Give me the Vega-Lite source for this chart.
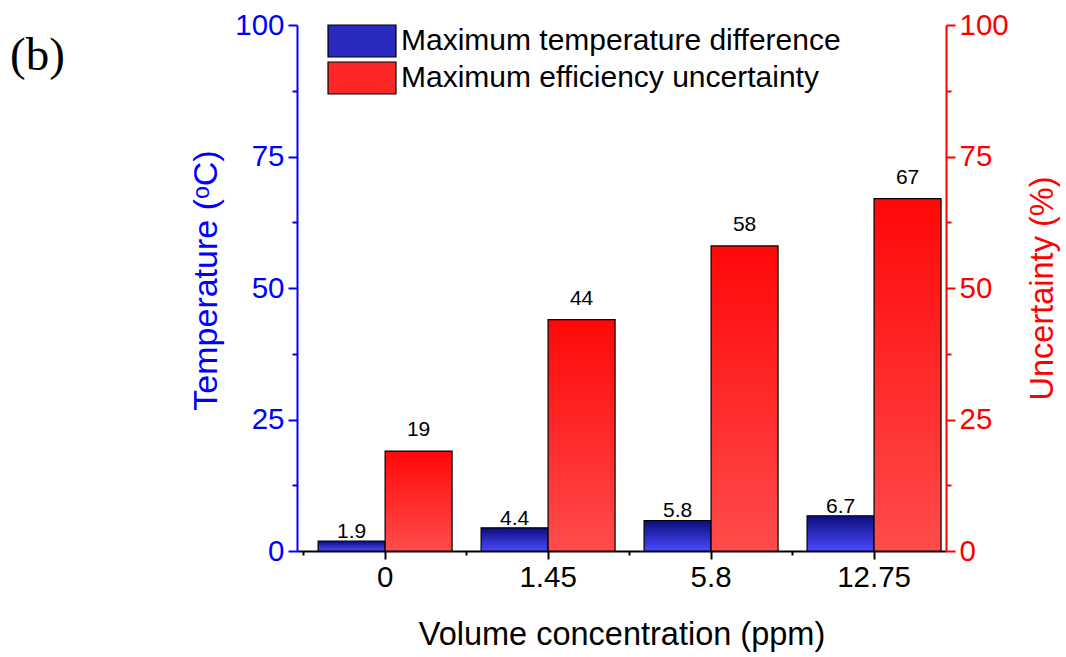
{
  "$schema": "https://vega.github.io/schema/vega-lite/v6.json",
  "width": 649,
  "height": 526,
  "autosize": {"type": "none"},
  "padding": {"left": 297, "top": 25, "right": 120, "bottom": 106},
  "background": "white",
  "title": {"text": "(b)", "anchor": "start", "frame": "group", "font": "Liberation Serif", "fontSize": 47, "fontWeight": "normal", "color": "black", "dx": -287, "dy": 70, "baseline": "top", "offset": 0},
  "config": {
    "view": {"stroke": null},
    "font": "Arial",
    "text": {"font": "Arial"},
    "legend": {"labelFont": "Arial"},
    "axis": {"labelFont": "Arial", "titleFont": "Arial", "titleFontWeight": "normal", "grid": false}
  },
  "data": {"values": [
    {"conc": "0", "series": "Maximum temperature difference", "value": 1.9},
    {"conc": "1.45", "series": "Maximum temperature difference", "value": 4.4},
    {"conc": "5.8", "series": "Maximum temperature difference", "value": 5.8},
    {"conc": "12.75", "series": "Maximum temperature difference", "value": 6.7},
    {"conc": "0", "series": "Maximum efficiency uncertainty", "value": 19},
    {"conc": "1.45", "series": "Maximum efficiency uncertainty", "value": 44},
    {"conc": "5.8", "series": "Maximum efficiency uncertainty", "value": 58},
    {"conc": "12.75", "series": "Maximum efficiency uncertainty", "value": 67}
  ]},
  "layer": [
    {
      "transform": [{"filter": "datum.series === 'Maximum temperature difference'"}],
      "encoding": {
        "x": {"field": "conc", "type": "nominal", "sort": ["0", "1.45", "5.8", "12.75"],
          "scale": {"paddingInner": 0.178, "paddingOuter": 0.08, "align": 0.81},
          "axis": {"title": "Volume concentration (ppm)", "orient": "bottom", "labelAngle": 0, "labelFontSize": 29.5, "labelColor": "black", "labelPadding": 4, "tickSize": 8, "tickWidth": 2, "tickColor": "black", "domainColor": "black", "domainWidth": 2, "titleFontSize": 32.5, "titleColor": "black", "titlePadding": 27}},
        "xOffset": {"field": "series", "type": "nominal", "scale": {"domain": ["Maximum temperature difference", "Maximum efficiency uncertainty"], "paddingInner": 0, "paddingOuter": 0}},
        "y": {"field": "value", "type": "quantitative", "scale": {"domain": [0, 100], "nice": false},
          "axis": {"orient": "left", "title": "Temperature (ᵒC)", "titleY": 255, "values": [0, 12.5, 25, 37.5, 50, 62.5, 75, 87.5, 100], "labelExpr": "datum.value % 25 === 0 ? datum.label : ''", "labelColor": "#0000ff", "labelFontSize": 29.5, "labelPadding": 4, "tickColor": "#0000ff", "tickWidth": 2, "tickSize": {"condition": {"test": "datum.value % 25 === 0", "value": 9}, "value": 5}, "domainColor": "#0000ff", "domainWidth": 2, "titleColor": "#0000ff", "titleFontSize": 34, "titlePadding": 11}}
      },
      "layer": [
        {"mark": {"type": "bar", "opacity": 0},
         "encoding": {"fill": {"field": "series", "type": "nominal",
           "scale": {"domain": ["Maximum temperature difference", "Maximum efficiency uncertainty"], "range": ["#2a2ac0", "#ff2626"]},
           "legend": {"title": null, "orient": "none", "legendX": 47, "legendY": -2, "padding": 0, "symbolType": "M-2,-0.94H2V0.94H-2Z", "symbolSize": 1156, "symbolStrokeColor": "black", "symbolStrokeWidth": 1.2, "symbolOpacity": 1, "labelFontSize": 30, "labelColor": "black", "labelFont": "Arial", "labelOffset": 21, "rowPadding": -3, "labelLimit": 600}}}},
        {"mark": {"type": "bar", "stroke": "black", "strokeWidth": 1.2,
          "fill": {"gradient": "linear", "x1": 0, "y1": 0, "x2": 0, "y2": 1, "stops": [{"offset": 0, "color": "#0c0c7c"}, {"offset": 1, "color": "#4a4aff"}]}}},
        {"mark": {"type": "text", "baseline": "bottom", "fontSize": 21, "color": "black", "dy": 1, "font": "Arial"},
         "encoding": {"text": {"field": "value", "type": "quantitative"}}}
      ]
    },
    {
      "transform": [{"filter": "datum.series === 'Maximum efficiency uncertainty'"}],
      "encoding": {
        "x": {"field": "conc", "type": "nominal", "sort": ["0", "1.45", "5.8", "12.75"],
          "axis": {"orient": "bottom", "title": null, "labels": false, "domain": false, "tickSize": 4, "tickWidth": 2, "tickColor": "black", "bandPosition": -0.108}},
        "xOffset": {"field": "series", "type": "nominal", "scale": {"domain": ["Maximum temperature difference", "Maximum efficiency uncertainty"], "paddingInner": 0, "paddingOuter": 0}},
        "y": {"field": "value", "type": "quantitative", "scale": {"domain": [0, 100], "nice": false},
          "axis": {"orient": "right", "title": "Uncertainty (%)", "titleAngle": 270, "values": [0, 12.5, 25, 37.5, 50, 62.5, 75, 87.5, 100], "labelExpr": "datum.value % 25 === 0 ? datum.label : ''", "labelColor": "#ff0000", "labelFontSize": 29.5, "labelPadding": 4, "tickColor": "#ff0000", "tickWidth": 2, "tickSize": {"condition": {"test": "datum.value % 25 === 0", "value": 9}, "value": 5}, "domainColor": "#ff0000", "domainWidth": 2, "titleColor": "#ff0000", "titleFontSize": 32.5, "titlePadding": 51}}
      },
      "layer": [
        {"mark": {"type": "bar", "stroke": "black", "strokeWidth": 1.2,
          "fill": {"gradient": "linear", "x1": 0, "y1": 0, "x2": 0, "y2": 1, "stops": [{"offset": 0, "color": "#ff0808"}, {"offset": 1, "color": "#ff4c4c"}]}}},
        {"mark": {"type": "text", "baseline": "bottom", "fontSize": 21, "color": "black", "dy": -11, "font": "Arial"},
         "encoding": {"text": {"field": "value", "type": "quantitative"}}}
      ]
    }
  ],
  "resolve": {"scale": {"y": "independent"}, "axis": {"x": "independent"}}
}
